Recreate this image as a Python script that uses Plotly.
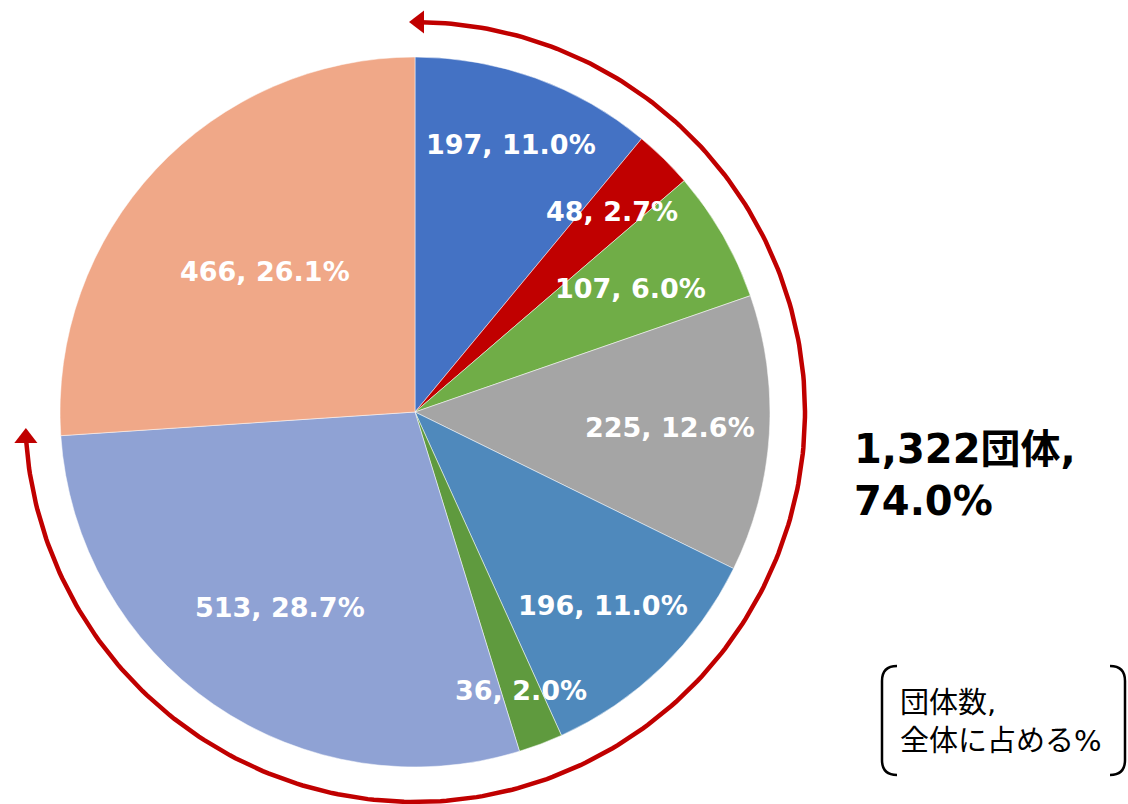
import numpy as np
import plotly.graph_objects as go

# ---- data ----
values = [197, 48, 107, 225, 196, 36, 513, 466]
colors = ["#4472C4", "#C00000", "#70AD47", "#A5A5A5", "#4F89BC", "#5F9A3E", "#8FA2D4", "#F0A888"]
highlight_count = 7          # first seven slices are summed in the callout
callout_unit = "団体"
legend_text = "団体数,<br>全体に占める%"

# ---- layout / style ----
W, H = 1128, 804
CX, CY, R = 415, 412, 355     # pie centre / radius in pixels
ARC_R = 390
RED = "#C00000"
FONT = "DejaVu Sans, Noto Sans CJK JP, sans-serif"
label_radius_frac = [0.80, 0.79, 0.70, 0.72, 0.76, 0.84, 0.67, 0.58]

total = sum(values)
pcts = [round(v / total * 100, 1) for v in values]
hl_sum = sum(values[:highlight_count])
hl_pct = round(sum(pcts[:highlight_count]), 1)
hl_share = hl_sum / total

fig = go.Figure()

fig.add_trace(go.Pie(
    values=values,
    marker=dict(colors=colors, line=dict(color="white", width=0.5)),
    sort=False, direction="clockwise", rotation=0,
    textinfo="none",
    hoverinfo="skip", showlegend=False,
    domain=dict(x=[(CX - R) / W, (CX + R) / W], y=[(H - CY - R) / H, (H - CY + R) / H]),
))

# slice labels placed at each slice's mid angle
cum = np.cumsum([0] + values)
for i, v in enumerate(values):
    mid = 2 * np.pi * (cum[i] + v / 2) / total
    rr = R * label_radius_frac[i]
    fig.add_annotation(x=CX + rr * np.sin(mid), y=CY - rr * np.cos(mid), xref="x", yref="y",
                       showarrow=False, xanchor="center", yanchor="middle",
                       text=f"{v}, {pcts[i]:.1f}%",
                       font=dict(family=FONT, size=27, color="white", weight="bold"))

# arc covering the highlighted share
theta = np.linspace(0, 2 * np.pi * hl_share, 300)
ax_ = CX + ARC_R * np.sin(theta)
ay_ = CY - ARC_R * np.cos(theta)
fig.add_trace(go.Scatter(x=ax_, y=ay_, mode="lines", line=dict(color=RED, width=4.5),
                         hoverinfo="skip", showlegend=False))
fig.add_trace(go.Scatter(x=[ax_[0] + 4], y=[ay_[0]], mode="markers",
                         marker=dict(symbol="triangle-left", size=20, color=RED),
                         hoverinfo="skip", showlegend=False))
fig.add_trace(go.Scatter(x=[ax_[-1]], y=[ay_[-1]], mode="markers",
                         marker=dict(symbol="triangle-up", size=20, color=RED),
                         hoverinfo="skip", showlegend=False))

fig.add_annotation(x=852, y=475, xref="x", yref="y", xanchor="left", yanchor="middle",
                   align="left", showarrow=False,
                   text=f"{hl_sum:,}{callout_unit},<br>{hl_pct:.1f}%",
                   font=dict(family=FONT, size=40, color="black", weight="bold"))

fig.add_annotation(x=898, y=722, xref="x", yref="y", xanchor="left", yanchor="middle",
                   align="left", showarrow=False, text=legend_text,
                   font=dict(family=FONT, size=29, color="black"))

# bracket pair around the key
fig.add_shape(type="path", xref="x", yref="y",
              path="M 897 666 Q 882 666 882 681 L 882 760 Q 882 775 897 775",
              line=dict(color="black", width=2.5))
fig.add_shape(type="path", xref="x", yref="y",
              path="M 1110 666 Q 1125 666 1125 681 L 1125 760 Q 1125 775 1110 775",
              line=dict(color="black", width=2.5))

fig.update_layout(
    width=W, height=H, margin=dict(l=0, r=0, t=0, b=0),
    paper_bgcolor="white", plot_bgcolor="rgba(0,0,0,0)",
    xaxis=dict(range=[0, W], visible=False, fixedrange=True),
    yaxis=dict(range=[H, 0], visible=False, fixedrange=True),
)

fig.write_html("out.html", config={"displayModeBar": False},
               post_script="document.body.style.margin='0';")
